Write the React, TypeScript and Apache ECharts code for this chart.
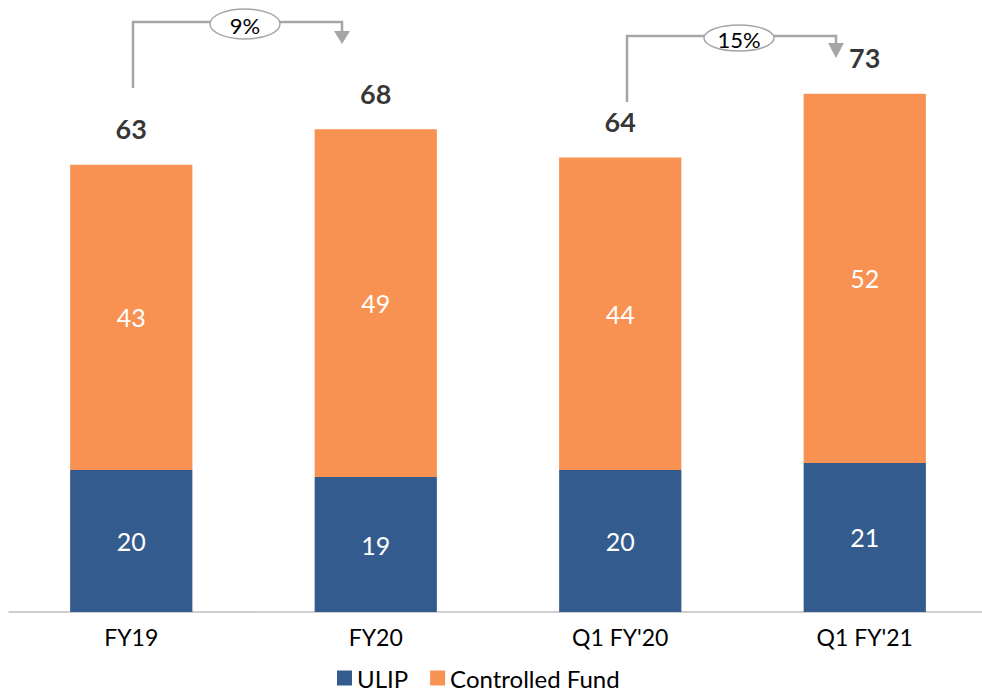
import React, { useEffect, useRef } from "react";
import * as echarts from "echarts";

const categories = ["FY19", "FY20", "Q1 FY'20", "Q1 FY'21"];
const ulip = [20, 19, 20, 21];
const controlledFund = [43, 49, 44, 52];
const totals = ulip.map((v, i) => v + controlledFund[i]);
const growthLabels = ["9%", "15%"];

const FONT = "Lato, 'Open Sans', sans-serif";
const GREY = "#A6A6A6";

function bracket(points: number[][], arrowX: number, arrowTop: number, arrowBottom: number,
  cx: number, cy: number, rx: number, ry: number, label: string) {
  return [
    { type: "polyline", shape: { points }, style: { stroke: GREY, lineWidth: 2.5, fill: "none" }, z: 10 },
    {
      type: "polygon",
      shape: { points: [[arrowX - 8, arrowTop], [arrowX + 8, arrowTop], [arrowX, arrowBottom]] },
      style: { fill: GREY }, z: 10,
    },
    { type: "ellipse", shape: { cx, cy, rx, ry }, style: { fill: "#fff", stroke: GREY, lineWidth: 1.5 }, z: 11 },
    {
      type: "text", x: cx, y: cy + 1, z: 12,
      style: { text: label, align: "center", verticalAlign: "middle", font: `22px ${FONT}`, fill: "#000" },
    },
  ];
}

export default function App() {
  const ref = useRef<HTMLDivElement>(null);
  useEffect(() => {
    if (!ref.current) return;
    const chart = echarts.init(ref.current, null, { renderer: "svg" });
    chart.setOption({
      animation: false,
      textStyle: { fontFamily: FONT },
      grid: { left: 9, width: 978, top: 44, bottom: 82 },
      legend: {
        data: ["ULIP", "Controlled Fund"],
        left: 337,
        top: 666,
        padding: 0,
        icon: "rect",
        itemWidth: 15,
        itemHeight: 15,
        itemGap: 22,
        textStyle: { fontSize: 24, lineHeight: 24, color: "#000", fontFamily: FONT },
      },
      xAxis: {
        type: "category",
        data: categories,
        axisLine: { lineStyle: { color: "#BFBFBF", width: 1.5 } },
        axisTick: { show: false },
        axisLabel: { fontSize: 23, color: "#000", margin: 13, fontFamily: FONT },
      },
      yAxis: { type: "value", min: 0, max: 80, show: false, splitLine: { show: false } },
      series: [
        {
          name: "ULIP", type: "bar", stack: "total", data: ulip, barWidth: "50%",
          itemStyle: { color: "#345B8E" },
          label: { show: true, position: "inside", color: "#fff", fontSize: 25, fontFamily: FONT },
        },
        {
          name: "Controlled Fund", type: "bar", stack: "total", data: controlledFund,
          itemStyle: { color: "#F79252" },
          label: { show: true, position: "inside", color: "#fff", fontSize: 25, fontFamily: FONT },
        },
        {
          name: "Total", type: "scatter", data: totals, symbolSize: 1,
          itemStyle: { color: "rgba(0,0,0,0)" },
          label: {
            show: true, position: "top", distance: 22, color: "#000",
            fontSize: 27, fontWeight: "bold", fontFamily: FONT,
          },
          z: 5,
        },
      ],
      graphic: [
        ...bracket([[133, 88], [133, 22], [342, 22], [342, 32]], 342, 31, 44, 245, 24, 35, 15, growthLabels[0]),
        ...bracket([[627, 102], [627, 36], [836, 36], [836, 44]], 836, 43, 58, 739, 38, 35, 13, growthLabels[1]),
      ],
    });
    return () => chart.dispose();
  }, []);
  return (
    <div style={{ position: "absolute", left: 0, top: 0, width: 982, height: 694, overflow: "hidden" }}>
      <div ref={ref} style={{ width: 1000, height: 694 }} />
    </div>
  );
}
